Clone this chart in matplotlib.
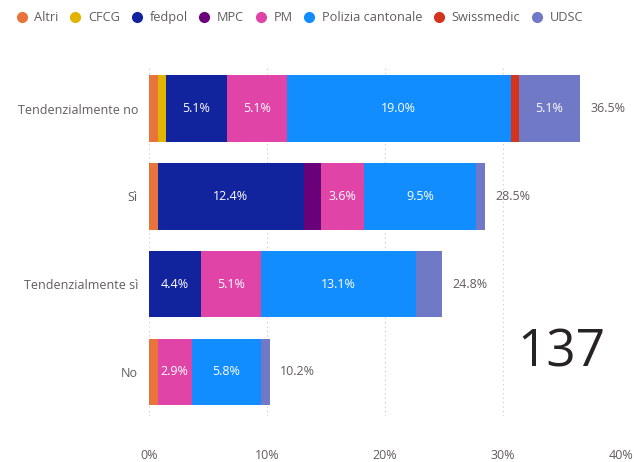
import matplotlib.pyplot as plt
from matplotlib.lines import Line2D

plt.rcParams['font.family'] = ['Open Sans', 'DejaVu Sans']

# respondent counts per answer and authority (N = 137)
total_n = 137
answers = ["Tendenzialmente no", "Sì", "Tendenzialmente sì", "No"]
series = ["Altri", "CFCG", "fedpol", "MPC", "PM", "Polizia cantonale", "Swissmedic", "UDSC"]
altri = [1, 1, 0, 1]
cfcg = [1, 0, 0, 0]
fedpol = [7, 17, 6, 0]
mpc = [0, 2, 0, 0]
pm = [7, 5, 7, 4]
polizia = [26, 13, 18, 8]
swissmedic = [1, 0, 0, 0]
udsc = [7, 1, 3, 1]

colors = ["#E8743B", "#E0B400", "#12239E", "#6B007B", "#E044A7",
          "#118DFF", "#D4341E", "#6F79C6"]

counts = [altri, cfcg, fedpol, mpc, pm, polizia, swissmedic, udsc]

fig = plt.figure(figsize=(6.34, 4.62), dpi=100)
ax = fig.add_axes([0.235, 0.10, 0.7445, 0.76])

ypos = list(range(len(answers)))
left = [0.0] * len(answers)
for name, vals, col in zip(series, counts, colors):
    pct = [v / total_n * 100 for v in vals]
    ax.barh(ypos, pct, left=left, height=0.76, color=col, label=name, zorder=3)
    for i, p in enumerate(pct):
        if vals[i] >= 4:
            ax.text(left[i] + p / 2, i, f"{p:.1f}%", ha="center", va="center",
                    color="white", fontsize=9, zorder=4)
    left = [l + p for l, p in zip(left, pct)]

for i, tot in enumerate(left):
    ax.text(tot + 0.9, i, f"{tot:.1f}%", ha="left", va="center",
            color="#605E5C", fontsize=9)

ax.set_xlim(0, 40)
ax.set_ylim(len(answers) - 0.5, -0.5)
ax.set_yticks(ypos)
ax.set_yticklabels(answers, fontsize=9, color="#605E5C")
ax.set_xticks([0, 10, 20, 30, 40])
ax.set_xticklabels(["0%", "10%", "20%", "30%", "40%"], fontsize=9, color="#605E5C")
ax.tick_params(length=0, pad=8)
ax.tick_params(axis="x", pad=24)
ax.grid(axis="x", color="#C8C6C4", linestyle=(0, (1, 3)), linewidth=0.8, zorder=0)
for s in ax.spines.values():
    s.set_visible(False)

# legend row along the top
handles = [Line2D([], [], marker="o", linestyle="", markersize=7, color=c)
           for c in colors]
fig.legend(handles, series, loc="upper left", bbox_to_anchor=(0.0, 0.995),
           ncol=len(series), frameon=False, fontsize=9.2, handletextpad=0.0,
           columnspacing=0.3, borderaxespad=0.3, labelcolor="#605E5C")

fig.text(0.885, 0.235, str(total_n), ha="center", va="center",
         fontsize=37, color="#252423")

fig.savefig("out.png", dpi=100)
